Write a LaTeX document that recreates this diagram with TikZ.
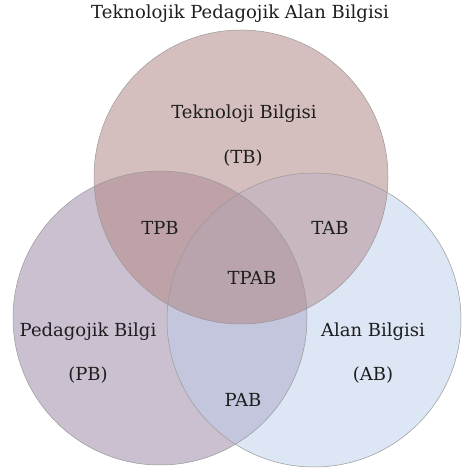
\documentclass[tikz,border=0pt]{standalone}
\usepackage{fontspec}
\setmainfont{DejaVu Serif}
\definecolor{cT}{HTML}{D5BFBE}
\definecolor{cL}{HTML}{CBC0D0}
\definecolor{cR}{HTML}{DCE6F5}
\definecolor{cTL}{HTML}{BEA2A8}
\definecolor{cTR}{HTML}{C8B6C0}
\definecolor{cLR}{HTML}{C3C6DC}
\definecolor{cTLR}{HTML}{B9A3AC}
\definecolor{txt}{HTML}{1E1E1E}
\begin{document}
\begin{tikzpicture}[x=1pt,y=-1pt,
  lbl/.style={font=\fontsize{18}{20}\selectfont, text=txt, inner sep=0pt},
  rim/.style={draw=black!40, line width=0.5pt}]
\useasboundingbox (0,0) rectangle (462,470);
\def\circT{(241,177) circle[radius=147pt]}
\def\circL{(160,318) circle[radius=147pt]}
\def\circR{(314,320) circle[radius=147pt]}
% single regions
\fill[cL] \circL;
\fill[cR] \circR;
\fill[cT] \circT;
% pairwise
\begin{scope}\clip \circL; \fill[cLR] \circR; \end{scope}
\begin{scope}\clip \circT; \fill[cTL] \circL; \end{scope}
\begin{scope}\clip \circT; \fill[cTR] \circR; \end{scope}
% triple
\begin{scope}\clip \circT; \clip \circL; \fill[cTLR] \circR; \end{scope}
% outlines
\draw[rim] \circL;
\draw[rim] \circR;
\draw[rim] \circT;
% labels
\node[lbl] (title) at (240,14) {Teknolojik Pedagojik Alan Bilgisi};
\node[lbl] (tb1) at (244,114) {Teknoloji Bilgisi};
\node[lbl] (tb2) at (243,158) {(TB)};
\node[lbl] (tpb) at (160,228) {TPB};
\node[lbl] (tab) at (330,228) {TAB};
\node[lbl] (tpab) at (252,278) {TPAB};
\node[lbl] (pb1) at (88,332) {Pedagojik Bilgi};
\node[lbl] (pb2) at (88,375) {(PB)};
\node[lbl] (ab1) at (373,332) {Alan Bilgisi};
\node[lbl] (ab2) at (373,375) {(AB)};
\node[lbl] (pab) at (243,400) {PAB};
\end{tikzpicture}
\end{document}
